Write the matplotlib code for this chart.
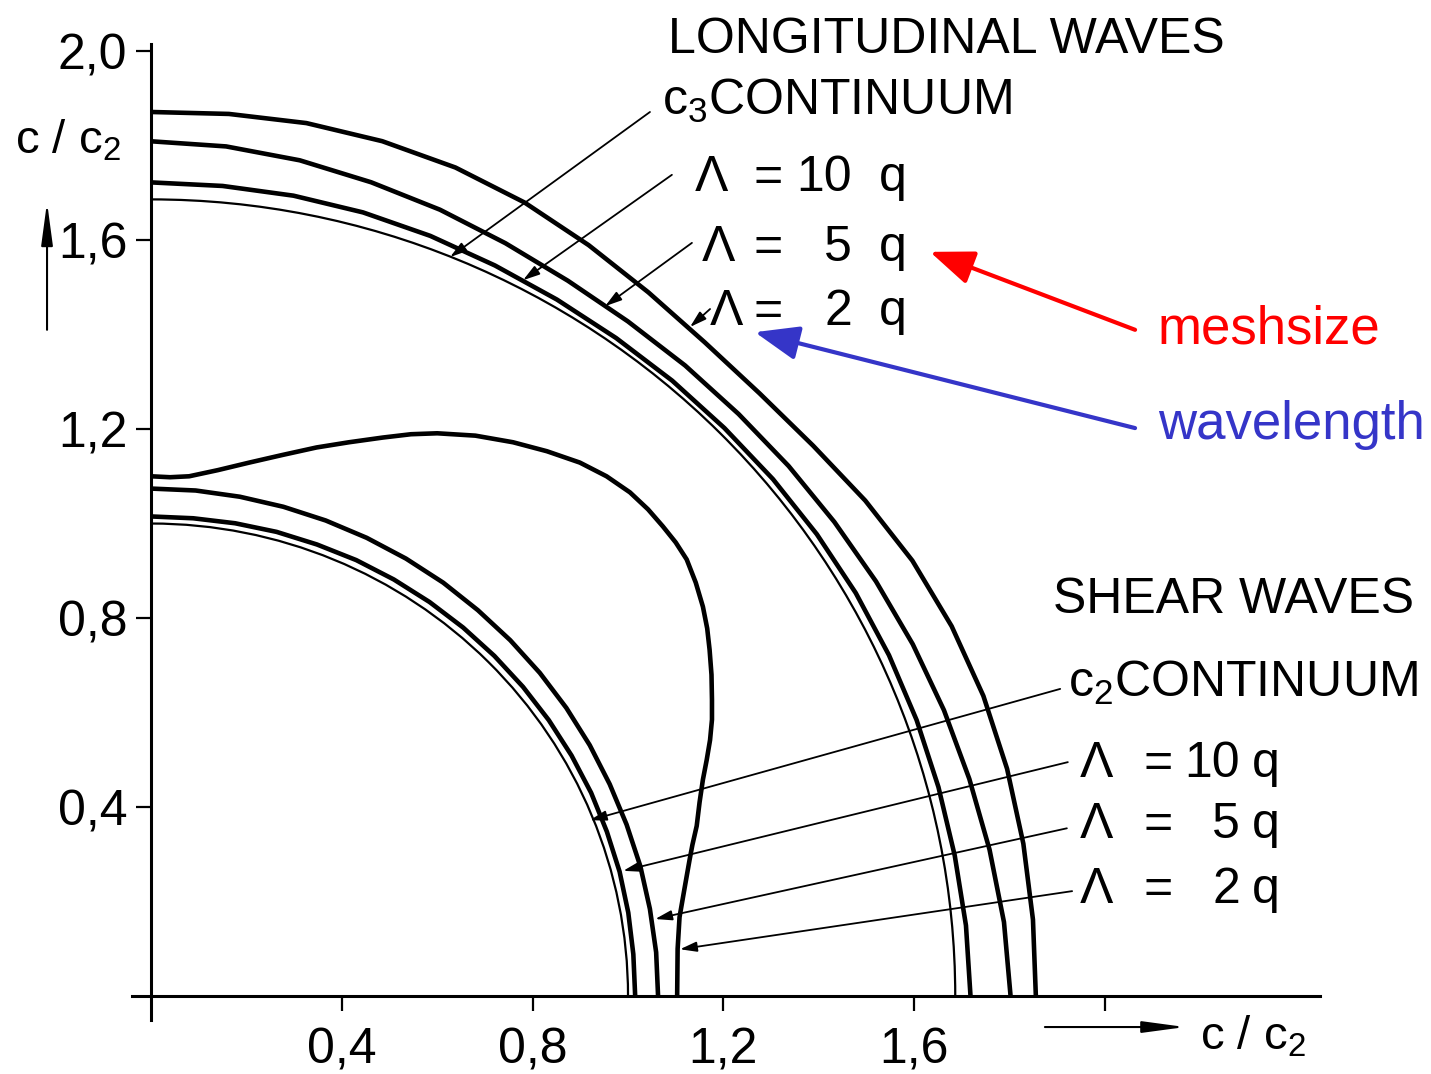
import numpy as np
import matplotlib
matplotlib.use('agg')
import matplotlib.pyplot as plt
from matplotlib.patches import Arc

# directions (deg from the horizontal axis) at which the radii were read
angle_deg = [0, 5, 10, 15, 20, 25, 30, 35, 40, 45, 50, 55, 60, 65, 70, 75, 80, 85, 90]

# longitudinal waves, c/c2 along each direction
long_cont = 1.686
long_10q = [1.718, 1.715, 1.711, 1.709, 1.708, 1.707, 1.706, 1.704, 1.702, 1.700,
            1.700, 1.700, 1.702, 1.706, 1.712, 1.717, 1.720, 1.721, 1.722]
long_5q = [1.802, 1.795, 1.785, 1.776, 1.769, 1.762, 1.755, 1.749, 1.745, 1.742,
           1.742, 1.743, 1.748, 1.758, 1.771, 1.783, 1.796, 1.805, 1.809]
long_2q = [1.855, 1.856, 1.857, 1.858, 1.857, 1.852, 1.843, 1.828, 1.812, 1.804,
           1.806, 1.818, 1.835, 1.853, 1.866, 1.873, 1.876, 1.874, 1.871]

# shear waves
shear_cont = 1.0
shear_10q = [1.015, 1.015, 1.016, 1.017, 1.017, 1.018, 1.018, 1.018, 1.018, 1.018,
             1.018, 1.018, 1.018, 1.018, 1.017, 1.017, 1.016, 1.015, 1.015]
shear_5q = [1.063, 1.063, 1.062, 1.062, 1.061, 1.061, 1.062, 1.063, 1.064, 1.065,
            1.066, 1.068, 1.069, 1.070, 1.071, 1.072, 1.073, 1.074, 1.074]
# the 2q shear curve, read as points
shear_2q_x = [0.0, 0.04, 0.08, 0.14, 0.206, 0.275, 0.347, 0.415, 0.486, 0.545,
              0.60, 0.68, 0.759, 0.83, 0.899, 0.955, 1.004, 1.042, 1.073, 1.100,
              1.123, 1.142, 1.157, 1.166, 1.171, 1.175, 1.176, 1.176, 1.172, 1.165,
              1.157, 1.150, 1.144, 1.135, 1.129, 1.118, 1.108, 1.104, 1.103]
shear_2q_y = [1.10, 1.098, 1.10, 1.113, 1.129, 1.145, 1.161, 1.172, 1.182, 1.189,
              1.191, 1.186, 1.172, 1.153, 1.129, 1.100, 1.066, 1.030, 0.994, 0.960,
              0.924, 0.875, 0.824, 0.778, 0.733, 0.680, 0.627, 0.585, 0.542, 0.500,
              0.458, 0.41, 0.36, 0.32, 0.288, 0.225, 0.167, 0.10, 0.0]

ticks = [0.4, 0.8, 1.2, 1.6, 2.0]
ytick_labels = ['0,4', '0,8', '1,2', '1,6', '2,0']
xtick_labels = ['0,4', '0,8', '1,2', '1,6', '']
lam_values = ['10', '5', '2']

plt.rcParams['font.family'] = ['Liberation Sans', 'DejaVu Sans']
plt.rcParams['mathtext.fontset'] = 'custom'
plt.rcParams['mathtext.rm'] = 'Liberation Sans'
plt.rcParams['mathtext.it'] = 'Liberation Sans:italic'
plt.rcParams['mathtext.default'] = 'regular'

fig = plt.figure(figsize=(14.31, 10.74), dpi=100)
ax = fig.add_axes([0, 0, 1, 1])
ax.set_xlim(-0.3166, 2.6834)
ax.set_ylim(-0.165, 2.108)

th = np.radians(angle_deg)
thick = 3.3
thin = 1.6


def polar_curve(r, lw):
    r = np.asarray(r)
    ax.plot(r * np.cos(th), r * np.sin(th), color='black', lw=lw,
            solid_capstyle='butt', solid_joinstyle='round')


for rc in (long_cont, shear_cont):
    ax.add_patch(Arc((0, 0), 2 * rc, 2 * rc, theta1=0, theta2=90,
                     color='black', lw=thin))
for r in (long_10q, long_5q, long_2q, shear_10q, shear_5q):
    polar_curve(r, thick)
ax.plot(shear_2q_x, shear_2q_y, color='black', lw=thick,
        solid_capstyle='butt', solid_joinstyle='round')

# axes
for s in ('top', 'right'):
    ax.spines[s].set_visible(False)
ax.spines['left'].set_position(('data', 0))
ax.spines['bottom'].set_position(('data', 0))
ax.spines['left'].set_bounds(-0.05, 2.015)
ax.spines['bottom'].set_bounds(-0.04, 2.45)
for s in ('left', 'bottom'):
    ax.spines[s].set_linewidth(2.2)
ax.set_xticks(ticks, xtick_labels)
ax.set_yticks(ticks, ytick_labels)
ax.tick_params(direction='out', length=11, width=1.6, labelsize=36)
ax.tick_params(axis='x', pad=12)
ax.tick_params(axis='y', pad=6)

fs = 36
# longitudinal labels
ax.text(1.084, 1.996, 'LONGITUDINAL WAVES', fontsize=fs)
ax.text(1.071, 1.865, 'c$_3$CONTINUUM', fontsize=fs)
long_base = [1.704, 1.556, 1.420]
long_lam_x = [1.140, 1.155, 1.172]
for v, yb, xl in zip(lam_values, long_base, long_lam_x):
    ax.text(xl, yb, 'Λ', fontsize=fs)
    ax.text(1.294, yb, '=', fontsize=fs, ha='center')
    ax.text(1.470, yb, v, fontsize=fs, ha='right')
    ax.text(1.526, yb, 'q', fontsize=fs)

# shear labels
ax.text(1.891, 0.811, 'SHEAR WAVES', fontsize=fs)
ax.text(1.922, 0.633, 'c$_2$CONTINUUM', fontsize=fs)
shear_base = [0.463, 0.334, 0.197]
for v, yb in zip(lam_values, shear_base):
    ax.text(1.948, yb, 'Λ', fontsize=fs)
    ax.text(2.111, yb, '=', fontsize=fs, ha='center')
    ax.text(2.283, yb, v, fontsize=fs, ha='right')
    ax.text(2.308, yb, 'q', fontsize=fs)

# leader lines: (start at label, end on curve)
leaders = [((1.046, 1.871), (0.627, 1.564)),
           ((1.092, 1.738), (0.780, 1.515)),
           ((1.134, 1.594), (0.952, 1.460)),
           ((1.172, 1.454), (1.130, 1.416)),
           ((1.906, 0.650), (0.920, 0.372)),
           ((1.922, 0.495), (0.990, 0.265)),
           ((1.920, 0.355), (1.057, 0.163)),
           ((1.931, 0.222), (1.109, 0.099))]
for start, end in leaders:
    ax.annotate('', xy=end, xytext=start,
                arrowprops=dict(arrowstyle='-|>,head_length=1.0,head_width=0.3',
                                mutation_scale=10, lw=1.3, color='black',
                                shrinkA=0, shrinkB=0))

# axis titles with arrows
ax.text(-0.285, 1.784, 'c / c$_2$', fontsize=34)
ax.annotate('', xy=(-0.218, 1.680), xytext=(-0.218, 1.410),
            arrowprops=dict(arrowstyle='-|>,head_length=2.6,head_width=0.35',
                            mutation_scale=10, lw=1.5, color='black',
                            shrinkA=0, shrinkB=0))
ax.text(2.199, -0.114, 'c / c$_2$', fontsize=34)
ax.annotate('', xy=(2.168, -0.0656), xytext=(1.874, -0.0656),
            arrowprops=dict(arrowstyle='-|>,head_length=2.6,head_width=0.35',
                            mutation_scale=10, lw=1.5, color='black',
                            shrinkA=0, shrinkB=0))

# coloured notes
red = '#ff0000'
blue = '#3535c8'
ax.text(2.111, 1.41, 'meshsize', fontsize=38, color=red, va='center')
ax.annotate('', xy=(1.633, 1.575), xytext=(2.063, 1.410),
            arrowprops=dict(arrowstyle='-|>,head_length=0.9,head_width=0.35',
                            mutation_scale=30, lw=3, color=red,
                            shrinkA=0, shrinkB=0))
ax.text(2.111, 1.208, 'wavelength', fontsize=38, color=blue, va='center')
ax.annotate('', xy=(1.266, 1.405), xytext=(2.063, 1.202),
            arrowprops=dict(arrowstyle='-|>,head_length=0.9,head_width=0.35',
                            mutation_scale=30, lw=3, color=blue,
                            shrinkA=0, shrinkB=0))

plt.savefig('out.png', dpi=100)
plt.close()
